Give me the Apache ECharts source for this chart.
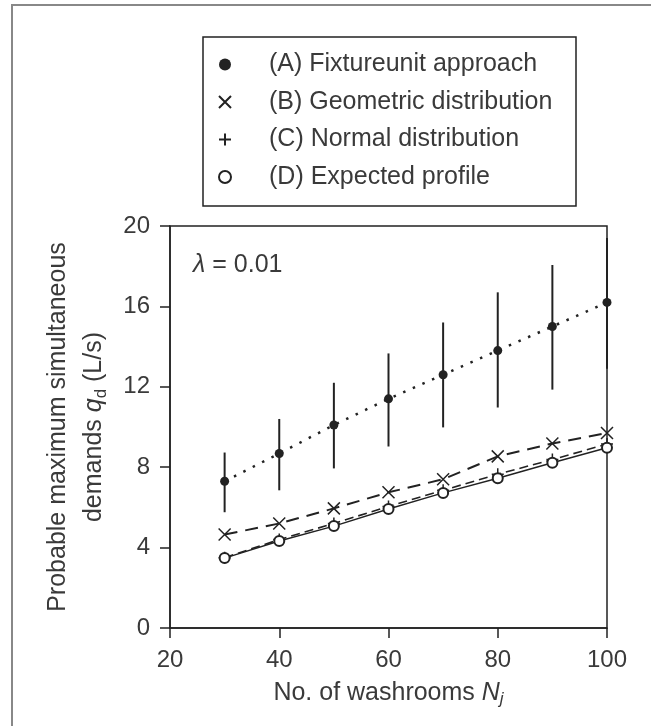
<!DOCTYPE html>
<html>
<head>
<meta charset="utf-8">
<style>
  html, body { margin: 0; padding: 0; background: #fff; }
  #chart { width: 651px; height: 726px; }
</style>
<script src="https://cdn.jsdelivr.net/npm/echarts@6/dist/echarts.min.js"></script>
</head>
<body>
<div id="chart"></div>
<script>
// washroom counts
const washrooms = [30, 40, 50, 60, 70, 80, 90, 100];
// (A) fixture unit approach, with its range bars
const fixtureUnit = [7.3, 8.68, 10.1, 11.4, 12.6, 13.8, 15.0, 16.2];
const fixtureLow  = [5.76, 6.85, 7.94, 9.03, 9.98, 10.97, 11.86, 12.9];
const fixtureHigh = [8.73, 10.4, 12.2, 13.66, 15.2, 16.7, 18.06, 19.4];
// (B) .. (D)
const geometric = [4.65, 5.2, 5.95, 6.75, 7.4, 8.54, 9.18, 9.7];
const normal    = [3.5, 4.4, 5.2, 6.05, 6.85, 7.65, 8.38, 9.15];
const expected  = [3.48, 4.33, 5.07, 5.92, 6.72, 7.45, 8.22, 8.97];
const yTicks = [0, 4, 8, 12, 16, 20];
const names = ['(A) Fixtureunit approach', '(B) Geometric distribution',
               '(C) Normal distribution', '(D) Expected profile'];

const ink = '#222';
const txt = '#3a3a3a';
const font = 'Liberation Sans, Arial, sans-serif';
const big = 25;
const crossPath = 'path://M0,0L10,10M10,0L0,10';
const plusPath = 'path://M5,0L5,10M0,5L10,5';

const pairs = vals => washrooms.map((n, i) => [n, vals[i]]);

const chart = echarts.init(document.getElementById('chart'));

const option = {
  animation: false,
  textStyle: { fontFamily: font, color: txt },
  grid: {
    left: 170, right: 44, top: 226, bottom: 98,
    show: true, borderColor: ink, borderWidth: 1.5
  },
  legend: {
    orient: 'vertical',
    left: 218, top: 52,
    padding: 0,
    itemWidth: 12, itemHeight: 12,
    itemGap: 12.5,
    textStyle: { fontSize: big, color: txt, fontFamily: font, padding: [0, 0, 0, 33] },
    data: [
      { name: names[0], icon: 'circle' },
      { name: names[1], icon: crossPath },
      { name: names[2], icon: plusPath },
      { name: names[3], icon: 'emptyCircle' }
    ]
  },
  xAxis: {
    type: 'value', min: 20, max: 100, interval: 20,
    name: 'No. of washrooms {n|N}{j|j}',
    nameLocation: 'middle', nameGap: 50,
    nameTextStyle: {
      fontSize: big, color: txt,
      rich: {
        n: { fontSize: big, fontStyle: 'italic', color: txt },
        j: { fontSize: 17, fontStyle: 'italic', color: txt, padding: [13, 0, 0, 0] }
      }
    },
    axisLine: { lineStyle: { color: ink, width: 1.5 } },
    axisTick: { length: 10, lineStyle: { color: ink, width: 1.5 } },
    axisLabel: { fontSize: 24, color: txt, margin: 20 },
    splitLine: { show: false }
  },
  yAxis: {
    type: 'value', min: yTicks[0], max: yTicks[yTicks.length - 1], interval: 4,
    name: 'Probable maximum simultaneous\ndemands {q|q}{d|d} (L/s)',
    nameLocation: 'middle', nameRotate: 90, nameGap: 50,
    nameTextStyle: {
      fontSize: big, color: txt, lineHeight: 36, align: 'center',
      rich: {
        q: { fontSize: big, fontStyle: 'italic', color: txt, lineHeight: 36 },
        d: { fontSize: 17, color: txt, lineHeight: 36, padding: [13, 0, 0, 0] }
      }
    },
    axisLine: { show: true, lineStyle: { color: ink, width: 1.5 } },
    axisTick: { show: true, length: 10, lineStyle: { color: ink, width: 1.5 } },
    axisLabel: { fontSize: 24, color: txt, margin: 20 },
    splitLine: { show: false }
  },
  graphic: [
    {
      type: 'polyline',
      shape: { points: [[12, 726], [12, 5], [651, 5]] },
      style: { stroke: '#888', lineWidth: 2, fill: null }
    },
    {
      type: 'rect',
      shape: { x: 203, y: 37, width: 373, height: 169 },
      style: { stroke: ink, lineWidth: 1.5, fill: null }
    },
    {
      type: 'text', left: 193, top: 253,
      style: {
        text: '{l|λ} = 0.01',
        fontSize: big, fill: txt, fontFamily: font,
        rich: { l: { fontSize: big, fontStyle: 'italic', fill: txt } }
      }
    }
  ],
  series: [
    {
      name: 'bars',
      type: 'custom',
      data: washrooms.map((n, i) => [n, fixtureLow[i], fixtureHigh[i]]),
      encode: { x: 0, y: [1, 2] },
      renderItem: (params, api) => {
        const lo = api.coord([api.value(0), api.value(1)]);
        const hi = api.coord([api.value(0), api.value(2)]);
        return {
          type: 'line',
          shape: { x1: lo[0], y1: lo[1], x2: hi[0], y2: hi[1] },
          style: { stroke: ink, lineWidth: 2 }
        };
      },
      z: 2
    },
    {
      name: names[0], type: 'line', data: pairs(fixtureUnit),
      symbol: 'circle', symbolSize: 9,
      itemStyle: { color: ink },
      lineStyle: { color: ink, width: 2.5, type: [2.5, 8] },
      z: 3
    },
    {
      name: names[1], type: 'line', data: pairs(geometric),
      symbol: crossPath, symbolSize: 12,
      itemStyle: { color: ink, borderColor: ink, borderWidth: 1.5 },
      lineStyle: { color: ink, width: 2, type: [13, 8] },
      z: 3
    },
    {
      name: names[2], type: 'line', data: pairs(normal),
      symbol: plusPath, symbolSize: 12,
      itemStyle: { color: ink, borderColor: ink, borderWidth: 1.5 },
      lineStyle: { color: ink, width: 1.6, type: [9, 5] },
      z: 3
    },
    {
      name: names[3], type: 'line', data: pairs(expected),
      symbol: 'emptyCircle', symbolSize: 10,
      itemStyle: { color: ink, borderWidth: 1.5 },
      lineStyle: { color: ink, width: 1.4 },
      z: 4
    }
  ]
};

chart.setOption(option);
</script>
</body>
</html>
